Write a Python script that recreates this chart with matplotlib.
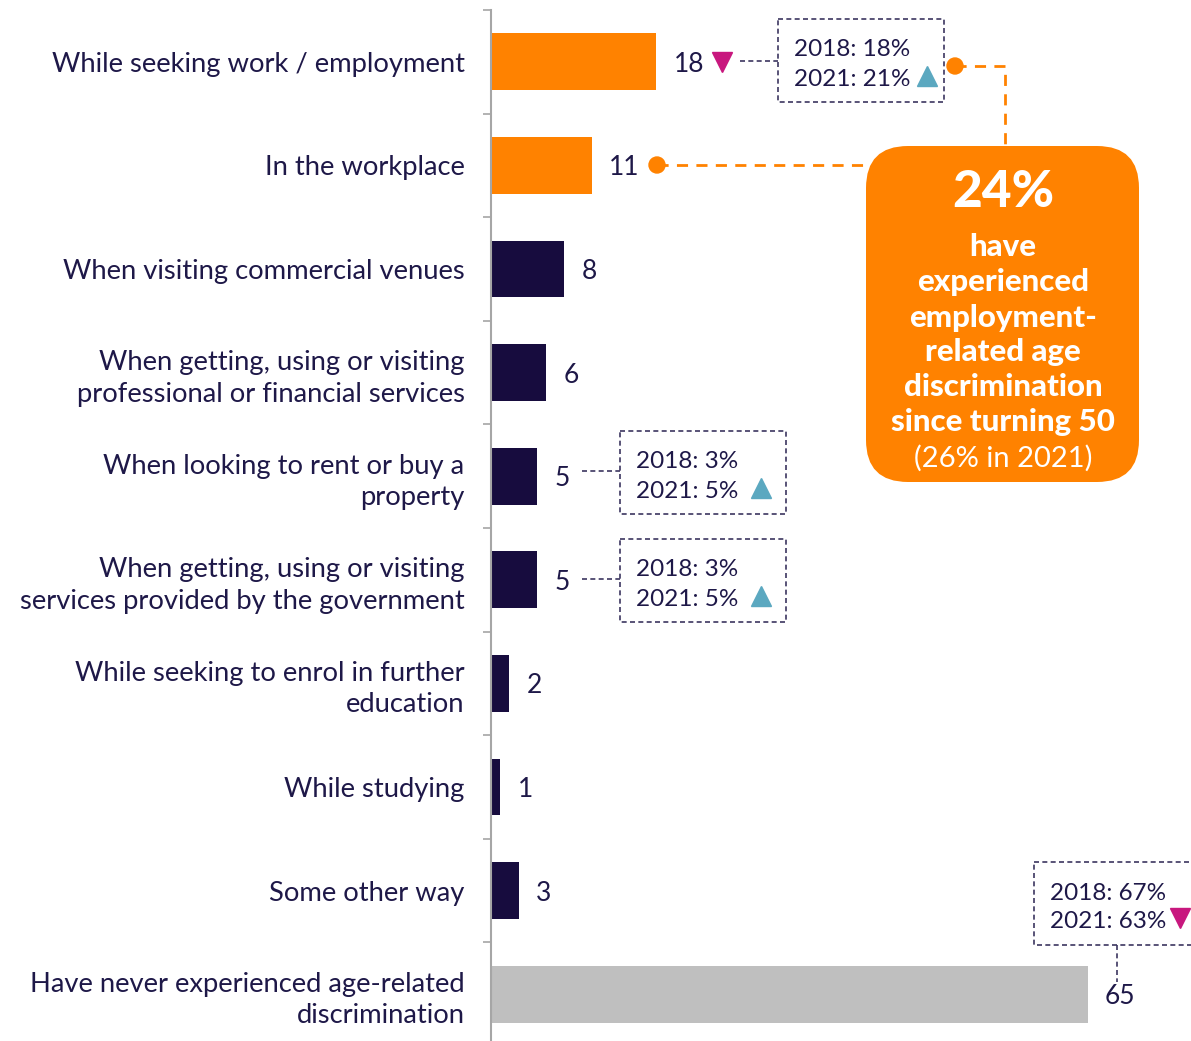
import matplotlib.pyplot as plt
from matplotlib.patches import FancyBboxPatch, Rectangle, Circle

plt.rcParams['font.family'] = ['Lato', 'DejaVu Sans']

categories = [
    'While seeking work / employment',
    'In the workplace',
    'When visiting commercial venues',
    'When getting, using or visiting\nprofessional or financial services',
    'When looking to rent or buy a\nproperty',
    'When getting, using or visiting\nservices provided by the government',
    'While seeking to enrol in further\neducation',
    'While studying',
    'Some other way',
    'Have never experienced age-related\ndiscrimination',
]
values = [18, 11, 8, 6, 5, 5, 2, 1, 3, 65]
groups = ['emp', 'emp', 'other', 'other', 'other', 'other', 'other', 'other', 'other', 'never']

# year-on-year comparison boxes: (row, 2018 text, 2021 text, direction)
compare_rows = [
    (0, '2018: 18%', '2021: 21%', 'up'),
    (4, '2018: 3%', '2021: 5%', 'up'),
    (5, '2018: 3%', '2021: 5%', 'up'),
    (9, '2018: 67%', '2021: 63%', 'down'),
]
headline = '24%'
headline_text = ['have', 'experienced', 'employment-', 'related age',
                 'discrimination', 'since turning 50']
headline_note = '(26% in 2021)'

ORANGE = '#ff8200'
NAVY = '#170c3e'
GREY = '#bfbfbf'
TEXT = '#1e1848'
PINK = '#c8177e'
TEAL = '#5ba8c0'
BOXLINE = '#3c3660'
colors = {'emp': ORANGE, 'other': NAVY, 'never': GREY}

fig = plt.figure(figsize=(11.91, 10.41), dpi=100)
ax = fig.add_axes([491 / 1191, -5 / 1041, 700 / 1191, 1036 / 1041])

y = list(range(len(categories)))
ax.barh(y, values, height=0.55, color=[colors[g] for g in groups])
ax.set_ylim(len(categories) - 0.5, -0.5)
ax.set_xlim(0, 700 / 9.18)

ax.set_yticks(y)
ax.set_yticklabels(categories, fontsize=19.7, color=TEXT, linespacing=1.33)
ax.tick_params(axis='y', which='major', length=0, pad=19)
ax.set_yticks([i - 0.5 for i in range(len(categories) + 1)], minor=True)
ax.tick_params(axis='y', which='minor', length=6, width=1.2, color='#a6a6a6')
ax.set_xticks([])
for s in ['top', 'right', 'bottom']:
    ax.spines[s].set_visible(False)
ax.spines['left'].set_color('#a6a6a6')
ax.spines['left'].set_linewidth(1.5)

for i, v in enumerate(values):
    ax.annotate(str(v), (v, i), xytext=(12.5, 0), textcoords='offset points',
                va='center_baseline', ha='left', fontsize=19, color=TEXT)

# overlay in pixel units for the callouts
ov = fig.add_axes([0, 0, 1, 1], zorder=5)
ov.set_xlim(0, 1191)
ov.set_ylim(1041, 0)
ov.axis('off')

dash = (0, (3, 2))
box_pos = {0: (778, 19), 4: (620, 431), 5: (620, 539), 9: (1034, 862)}
for row, t18, t21, d in compare_rows:
    bx, by = box_pos[row]
    ov.add_patch(Rectangle((bx, by), 166, 83, fill=False, edgecolor=BOXLINE,
                           lw=1.2, linestyle=dash, clip_on=False))
    ov.text(bx + 16, by + 29, t18, fontsize=17.5, color=TEXT, va='center_baseline')
    ov.text(bx + 16, by + 58, t21, fontsize=17.5, color=TEXT, va='center_baseline')
    if d == 'up':
        tx = bx + 149 if row == 0 else bx + 141
        ov.plot(tx, by + 57, marker='^', ms=15, color=TEAL, clip_on=False)
    else:
        ov.plot(bx + 146, by + 56, marker='v', ms=15, color=PINK, clip_on=False)

# connectors from the value labels to the boxes
ov.plot([740, 778], [61, 61], color=BOXLINE, lw=1.2, linestyle=dash)
ov.plot(722, 62, marker='v', ms=15, color=PINK)
ov.plot([582, 620], [471, 471], color=BOXLINE, lw=1.2, linestyle=dash)
ov.plot([582, 620], [579, 579], color=BOXLINE, lw=1.2, linestyle=dash)
ov.plot([1117, 1117], [945, 982], color=BOXLINE, lw=1.2, linestyle=dash)

# headline callout
ov.plot([657, 870], [165, 165], color=ORANGE, lw=2, linestyle=(0, (4, 3)))
ov.plot([955, 1005, 1005], [66, 66, 150], color=ORANGE, lw=2, linestyle=(0, (4, 3)))
ov.add_patch(Circle((657, 165), 8, color=ORANGE))
ov.add_patch(Circle((955, 66), 8, color=ORANGE))
ov.add_patch(FancyBboxPatch((866, 146), 273, 336,
                            boxstyle='round,pad=0,rounding_size=42',
                            facecolor=ORANGE, edgecolor='none'))
ov.text(1003, 188, headline, fontsize=37, fontweight='black', color='white',
        ha='center', va='center_baseline')
for k, line in enumerate(headline_text):
    ov.text(1003, 245 + 35 * k, line, fontsize=22.5, fontweight='black',
            color='white', ha='center', va='center_baseline')
ov.text(1003, 456, headline_note, fontsize=21, color='white',
        ha='center', va='center_baseline')

fig.savefig('out.png', dpi=100)
